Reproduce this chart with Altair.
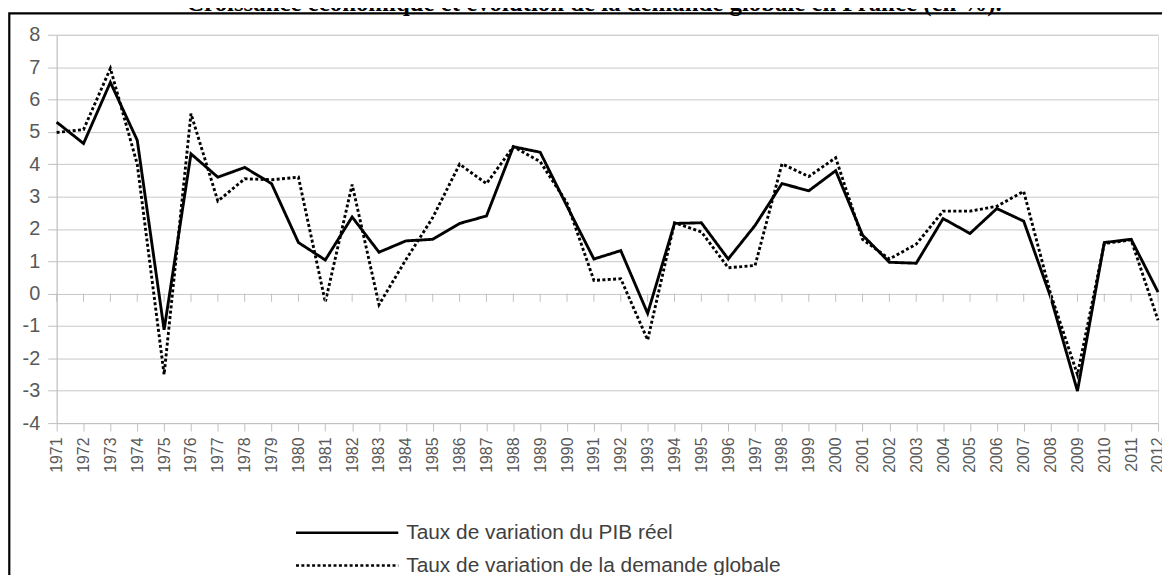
import altair as alt
import pandas as pd

# ---- data ----
years = list(range(1971, 2013))
pib = [5.30, 4.64, 6.53, 4.74, -1.12, 4.32, 3.60, 3.90, 3.40, 1.58,
       1.04, 2.37, 1.28, 1.63, 1.68, 2.17, 2.40, 4.54, 4.37, 2.70,
       1.07, 1.33, -0.61, 2.17, 2.19, 1.07, 2.11, 3.40, 3.18, 3.80,
       1.81, 0.97, 0.94, 2.32, 1.86, 2.63, 2.24, -0.10, -3.01, 1.58,
       1.68, 0.05]
demande = [4.98, 5.07, 6.96, 4.00, -2.50, 5.56, 2.86, 3.55, 3.52, 3.60,
           -0.26, 3.37, -0.34, 1.05, 2.35, 4.00, 3.40, 4.54, 4.08, 2.80,
           0.41, 0.46, -1.43, 2.19, 1.91, 0.80, 0.87, 4.01, 3.62, 4.20,
           1.68, 1.07, 1.53, 2.55, 2.55, 2.70, 3.16, 0.00, -2.50, 1.55,
           1.66, -0.82]
series_names = ["Taux de variation du PIB réel",
                "Taux de variation de la demande globale"]
y_ticks = list(range(-4, 9))
title_text = "Croissance économique et évolution de la demande globale en France (en %)."

df = pd.DataFrame({
    "annee": years * 2,
    "valeur": pib + demande,
    "serie": [series_names[0]] * len(years) + [series_names[1]] * len(years),
})
years_df = pd.DataFrame({"annee": years})
one_df = pd.DataFrame({"k": [0]})

W, H = 1109, 391
GRAY = "#bfbfbf"
LABEL = "#595959"

x_scale = alt.Scale(domain=[1971, 2012], nice=False, zero=False)
y_scale = alt.Scale(domain=[-4, 8], nice=False, zero=False)

x_axis = alt.Axis(values=years, labelExpr="'' + datum.value",
                  labelAngle=-90, labelFontSize=16,
                  labelFont="Liberation Sans", labelColor=LABEL,
                  tickColor=GRAY, tickSize=8, domainColor=GRAY,
                  labelPadding=6, grid=False, labelOverlap=False,
                  labelFlush=False, title=None)
y_axis = alt.Axis(values=y_ticks, labelExpr="'' + datum.value",
                  labelFontSize=20, labelFont="Liberation Sans",
                  labelColor=LABEL, tickColor=GRAY, tickSize=9,
                  domainColor=GRAY, gridColor="#c8c8c8",
                  labelPadding=8, labelOverlap=False, title=None)

lines = alt.Chart(df).mark_line(
    color="black", strokeWidth=2.9, strokeCap="butt", strokeJoin="miter"
).encode(
    x=alt.X("annee:Q", scale=x_scale, axis=x_axis),
    y=alt.Y("valeur:Q", scale=y_scale, axis=y_axis),
    strokeDash=alt.StrokeDash(
        "serie:N",
        scale=alt.Scale(domain=series_names, range=[[1, 0], [3, 2.4]]),
        legend=alt.Legend(
            title=None, orient="none", legendX=236, legendY=491,
            symbolType="M-10.3,0H10.3", symbolSize=100,
            symbolStrokeWidth=2.5, symbolStrokeColor="black",
            symbolOffset=46, labelOffset=49, labelFontSize=21,
            labelFont="Liberation Sans", labelColor="#404040",
            rowPadding=11, padding=0, labelLimit=0, direction="vertical",
        ),
    ),
)

zero_ticks = alt.Chart(years_df).mark_rule(color=GRAY, strokeWidth=1).encode(
    x=alt.X("annee:Q", scale=x_scale, axis=x_axis),
    y=alt.YDatum(0, axis=y_axis),
    y2=alt.datum(-0.25),
)

frame = alt.Chart(one_df).mark_rect(
    fill="transparent", stroke="black", strokeWidth=2.2
).encode(
    x=alt.value(-47.7), x2=alt.value(1300),
    y=alt.value(-21.5), y2=alt.value(800),
)

title = alt.Chart(one_df).mark_text(
    text=title_text, font="Liberation Serif", fontSize=25, fontWeight="bold",
    color="black", align="center", baseline="alphabetic"
).encode(x=alt.value(541), y=alt.value(-23.5))

chart = alt.layer(lines, zero_ticks, frame, title).properties(
    width=W, height=H,
    autosize=alt.AutoSizeParams(type="none"),
    padding={"left": 49, "top": 25, "right": 4, "bottom": 151},
).configure_view(stroke=GRAY, strokeWidth=1).configure(background="white")

chart.save("out.html", embed_options={"renderer": "svg", "actions": False})
